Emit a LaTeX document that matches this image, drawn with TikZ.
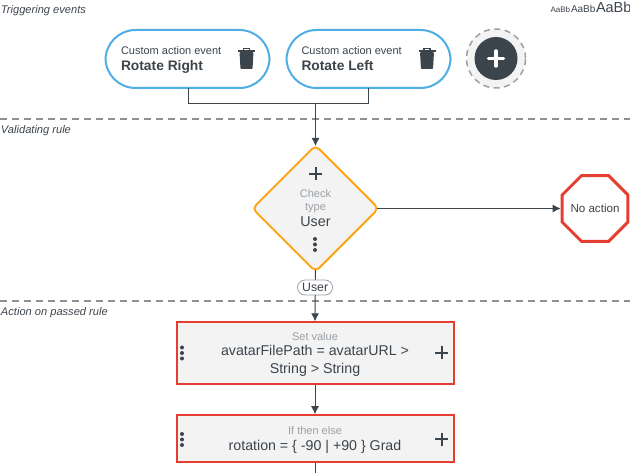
\documentclass[tikz,border=0pt]{standalone}
\usepackage{fontspec}
\setmainfont{Liberation Sans}
\usetikzlibrary{arrows.meta,shapes,positioning}
\definecolor{ink}{HTML}{3C444C}
\definecolor{dimtext}{HTML}{9AA0A6}
\definecolor{sepgray}{HTML}{8A9094}
\definecolor{skyline}{HTML}{4FAEE3}
\definecolor{ambline}{HTML}{FCA81A}
\definecolor{redline}{HTML}{E53E30}
\definecolor{panel}{HTML}{F3F3F3}
\tikzset{
  basic/.style    = {inner sep=0pt, outer sep=0pt, align=center, text=ink, anchor=base},
  sectionlbl/.style = {basic, anchor=base west, font=\fontsize{11.1}{13}\selectfont\itshape},
  eventpill/.style = {draw=skyline, line width=2pt, fill=white, rounded corners=30pt,
                   minimum width=164pt, minimum height=58pt, outer sep=0pt},
  smalltxt/.style = {basic, anchor=base west, font=\fontsize{11}{13}\selectfont},
  boldtxt/.style  = {basic, anchor=base west, font=\fontsize{13.8}{16}\selectfont\bfseries},
  rulebox/.style  = {draw=redline, line width=2pt, fill=panel, minimum width=277pt},
  ruletitle/.style = {basic, text=dimtext, font=\fontsize{11}{13}\selectfont},
  rulebody/.style = {basic, font=\fontsize{14.2}{17.5}\selectfont},
  sepline/.style  = {draw=sepgray, line width=1.6pt, dash pattern=on 7pt off 5pt},
  link/.style     = {draw=ink, line width=1pt},
  flow/.style     = {link, -{Latex[length=8pt,width=8pt]}},
  plusicon/.pic   = {\draw[ink, line width=2pt] (-6.5,0) -- (6.5,0) (0,-6.5) -- (0,6.5);},
  dotsicon/.pic   = {\foreach \i in {-5.5,0,5.5} \fill[ink] (0,\i) circle (2pt);},
  trashicon/.pic  = {
    \fill[ink, rounded corners=1pt] (-7,-6.5) -- (7,-6.5) -- (6,10.5) -- (-6,10.5) -- cycle;
    \draw[ink, line width=1.6pt] (-8.5,-7.5) -- (8.5,-7.5);
    \draw[ink, line width=1.4pt] (-3,-8) -- (-3,-9.8) -- (3,-9.8) -- (3,-8);},
}
\begin{document}
\begin{tikzpicture}[x=1pt,y=-1pt]
\useasboundingbox (0,0) rectangle (630,473);

% section separators
\coordinate (sepa) at (0,119);
\coordinate (sepb) at (630,119);
\coordinate (sepc) at (0,301);
\coordinate (sepd) at (630,301);
\draw[sepline] (sepa) -- (sepb);
\draw[sepline] (sepc) -- (sepd);
\node[sectionlbl] (trigger) at (1,13.6) {Triggering events};
\node[sectionlbl] (validate) at (1,133.6) {Validating rule};
\node[sectionlbl] (passed) at (1,315.6) {Action on passed rule};

% font samples, top right
\node[basic, anchor=base west, font=\fontsize{8}{9}\selectfont] (aaone) at (550.5,12.5) {AaBb};
\node[basic, anchor=base west, font=\fontsize{10}{11}\selectfont] (aatwo) at (571,12.5) {AaBb};
\node[basic, anchor=base west, font=\fontsize{14.5}{16}\selectfont] (aathree) at (596,12.5) {AaBb};

% triggering events
\node[eventpill] (right) at (187.5,59) {};
\node[eventpill, right=17pt of right] (left) {};
\node[smalltxt] (rightsub) at (121,54.7) {Custom action event};
\node[boldtxt] (rightname) at (121,70.7) {Rotate Right};
\node[smalltxt] (leftsub) at (301.5,54.7) {Custom action event};
\node[boldtxt] (leftname) at (301.5,70.7) {Rotate Left};
\pic at (246.5,58.5) {trashicon};
\pic at (427,58.5) {trashicon};

\node[circle, draw=dimtext, fill=panel, line width=1.5pt, dash pattern=on 6pt off 4.5pt,
  minimum size=59pt, inner sep=0pt] (addring) at (496,58.5) {};
\node[circle, fill=ink, minimum size=43pt, inner sep=0pt] (adddisc) at (496,58.5) {};
\draw[white, line width=3.5pt, line cap=round] (488.5,58.5) -- (503.5,58.5) (496,51) -- (496,66);

% validating rule
\node[diamond, aspect=1, draw=ambline, line width=2pt, fill=panel, rounded corners=5pt,
  minimum width=127pt, minimum height=127pt, inner sep=0pt] (check) at (315.5,208.5) {};
\pic at (315.5,174) {plusicon};
\node[ruletitle] (checkname) at (315.5,210.7) {Check\\[0.5pt]type};
\node[basic, font=\fontsize{14.3}{16}\selectfont] (checkval) at (315.5,226.7) {User};
\pic at (315,244.5) {dotsicon};

\node[regular polygon, regular polygon sides=8, draw=redline, line width=3pt, fill=white,
  minimum size=71pt, inner sep=0pt, outer sep=1.5pt] (noaction) at (595,208.5) {};
\node[basic, font=\fontsize{11.6}{13}\selectfont] (noactiontxt) at (595,212.7) {No action};

% actions
\node[rulebox, minimum height=62pt] (setval) at (315,353.3) {};
\node[ruletitle] (setvaltitle) at (315,340.7) {Set value};
\node[rulebody] (setvalbody) at (315,373.3) {avatarFilePath = avatarURL >\\String > String};
\pic at (441.5,353) {plusicon};
\pic at (182,353) {dotsicon};

\node[rulebox, minimum height=46.5pt] (ifelse) at (315,438.5) {};
\node[ruletitle] (ifelsetitle) at (315,434.7) {If then else};
\node[rulebody] (ifelsebody) at (315,450) {rotation = \{ -90 | +90 \} Grad};
\pic at (441.5,439) {plusicon};
\pic at (182,439.5) {dotsicon};

% connectors
\coordinate (joint) at (315.5,104);
\coordinate (tail) at (315,473);
\draw[link] (right.south) ++(1,0) |- (joint);
\draw[link] (left.south) |- (joint);
\draw[flow] (joint) -- ([yshift=-2pt]check.north);
\draw[flow] ([xshift=-3pt]check.east) -- (noaction.west);
\draw[flow] ([yshift=3pt]check.south) -- (setval.north);
\draw[flow] (setval.south) -- (ifelse.north);
\draw[link] (ifelse.south) -- (tail);

\node[draw=dimtext, fill=white, rounded corners=7.5pt, line width=.8pt, inner sep=0pt,
  minimum width=35pt, minimum height=15pt] (userpill) at (315,287.5) {};
\node[basic, font=\fontsize{12.3}{14}\selectfont] (usertxt) at (315.2,292) {User};
\end{tikzpicture}
\end{document}
